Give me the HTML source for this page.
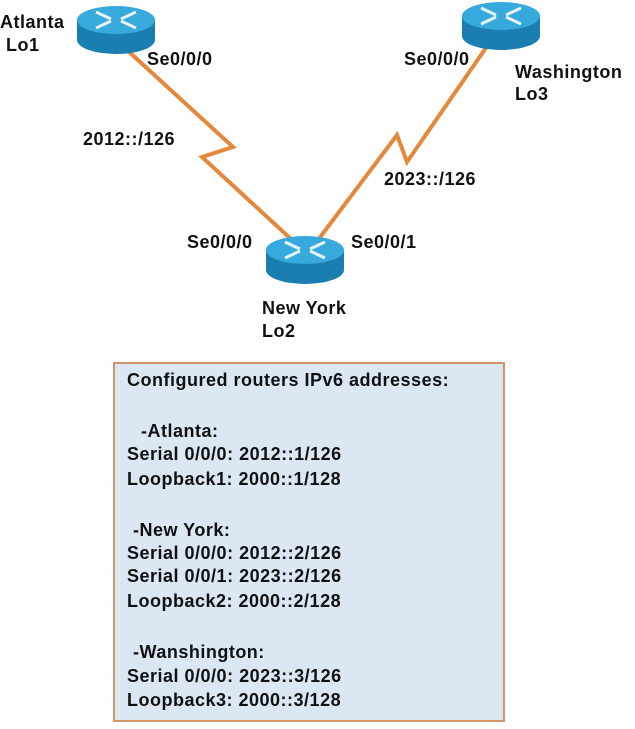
<!DOCTYPE html>
<html><head><style>
body{margin:0;background:#fff;width:635px;height:729px;position:relative;overflow:hidden;font-family:"Liberation Sans",Arial,sans-serif;font-weight:bold;color:#111}
.t{position:absolute;font-size:18px;letter-spacing:0.5px;white-space:nowrap;line-height:20px}
.box{position:absolute;left:113px;top:362px;width:388px;height:356px;background:#dbe7f3;border:2px solid #d4956a}
.box div{position:absolute;left:12px;font-size:18px;letter-spacing:0.5px;white-space:nowrap;line-height:20px}
</style></head><body>
<svg width="635" height="729" style="position:absolute;left:0;top:0">
<defs>
<g id="r">
<path d="M-39,0 v20 a39,14 0 0 0 78,0 v-20 z" fill="#1a7fb0"/>
<ellipse cx="0" cy="0" rx="39" ry="14" fill="#38a9dc"/>
<g stroke="#e4f4fc" stroke-width="3" fill="none">
<path d="M-20,-8 L-5,-1 M20,8 L5,1 M20,-8 L5,-1 M-20,8 L-5,1"/>
</g>
</g>
</defs>
<g stroke="#e3883c" stroke-width="4" fill="none" stroke-linejoin="miter">
<polyline points="127,50 233,147 202,157 292,240"/>
<polyline points="318,240 397,135 407,162 490,42"/>
</g>
<use href="#r" x="116" y="20"/>
<use href="#r" x="501" y="16"/>
<use href="#r" x="305" y="250"/>
</svg>
<div class="t" style="left:0px;top:12px">Atlanta</div>
<div class="t" style="left:6px;top:35px">Lo1</div>
<div class="t" style="left:147px;top:49px">Se0/0/0</div>
<div class="t" style="left:404px;top:49px">Se0/0/0</div>
<div class="t" style="left:515px;top:62px">Washington</div>
<div class="t" style="left:515px;top:84px">Lo3</div>
<div class="t" style="left:83px;top:129px">2012::/126</div>
<div class="t" style="left:384px;top:169px">2023::/126</div>
<div class="t" style="left:187px;top:232px">Se0/0/0</div>
<div class="t" style="left:351px;top:232px">Se0/0/1</div>
<div class="t" style="left:262px;top:298px">New York</div>
<div class="t" style="left:262px;top:321px">Lo2</div>
<div class="box">
<div style="top:6px">Configured routers IPv6 addresses:</div>
<div style="top:57px;left:26px">-Atlanta:</div>
<div style="top:80px">Serial 0/0/0: 2012::1/126</div>
<div style="top:105px">Loopback1: 2000::1/128</div>
<div style="top:156px;left:18px">-New York:</div>
<div style="top:179px">Serial 0/0/0: 2012::2/126</div>
<div style="top:202px">Serial 0/0/1: 2023::2/126</div>
<div style="top:227px">Loopback2: 2000::2/128</div>
<div style="top:278px;left:18px">-Wanshington:</div>
<div style="top:302px">Serial 0/0/0: 2023::3/126</div>
<div style="top:326px">Loopback3: 2000::3/128</div>
</div>
</body></html>
